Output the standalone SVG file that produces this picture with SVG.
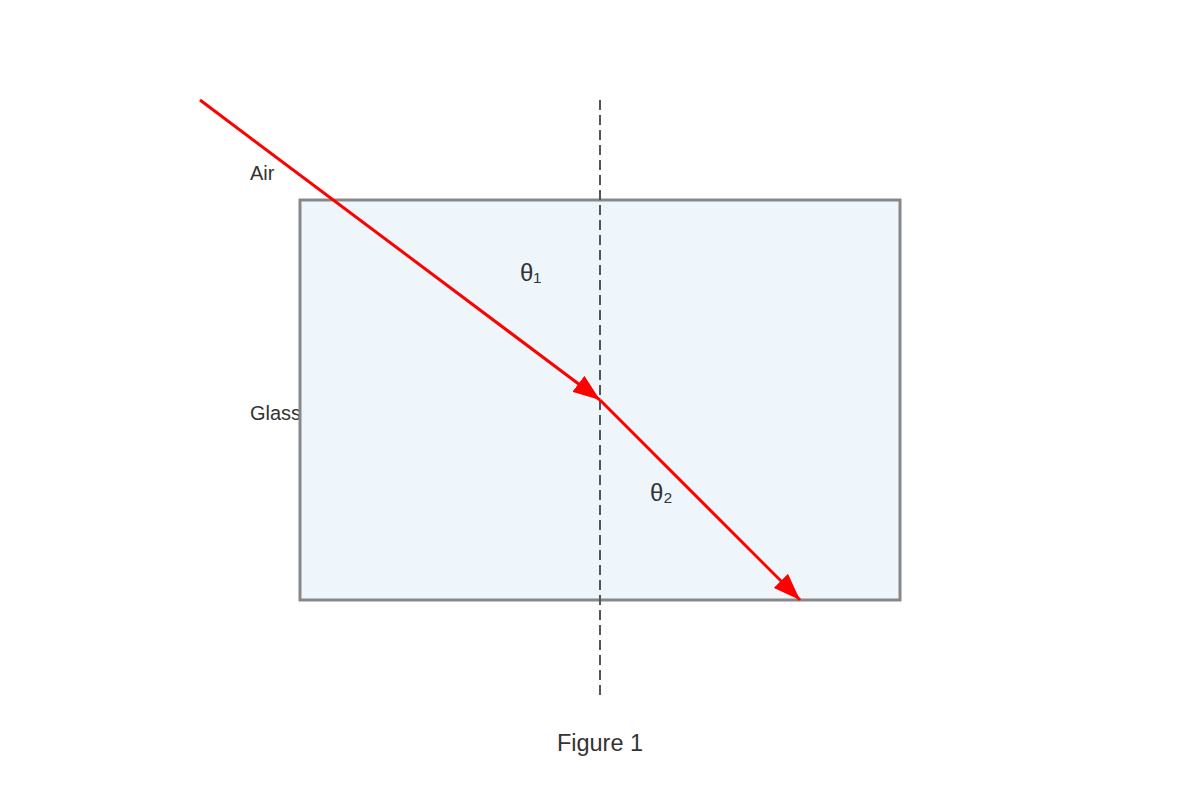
<svg xmlns="http://www.w3.org/2000/svg" width="1200" height="800" viewBox="0 0 1200 800">
  <style>
    .label { font-family: "Liberation Sans", Arial, sans-serif; font-size: 20px; fill: #333333; }
    .angle { font-family: "Liberation Sans", Arial, sans-serif; font-size: 24px; fill: #333333; }
    .caption { font-family: "Liberation Sans", Arial, sans-serif; font-size: 23.5px; fill: #333333; }
    .ray { stroke: #ff0000; stroke-width: 3; fill: none; marker-end: url(#arrow); }
    .normal { stroke: #555555; stroke-width: 2; stroke-dasharray: 10 5; fill: none; }
  </style>
  <defs>
    <marker id="arrow" viewBox="0 0 27 20" markerWidth="27" markerHeight="20" markerUnits="userSpaceOnUse" refX="27" refY="10" orient="auto">
      <path d="M0,0 L27,10 L0,20 Z" fill="#ff0000"/>
    </marker>
  </defs>
  <rect width="1200" height="800" fill="#ffffff"/>
  <g id="label-air"><text class="label" x="250" y="180">Air</text></g>
  <g id="label-glass"><text class="label" x="250" y="420">Glass</text></g>
  <g id="glass-block">
    <rect x="300" y="200" width="600" height="400" fill="#eef6fc" stroke="#888888" stroke-width="3"/>
  </g>
  <g id="connectors">
    <line id="normal" class="normal" x1="600" y1="100" x2="600" y2="700"/>
    <line id="incident-ray" class="ray" x1="200" y1="100" x2="600" y2="400"/>
    <line id="refracted-ray" class="ray" x1="600" y1="400" x2="800" y2="600"/>
  </g>
  <g id="label-theta1"><text class="angle" x="520" y="281">θ₁</text></g>
  <g id="label-theta2"><text class="angle" x="650" y="501">θ₂</text></g>
  <g id="caption"><text class="caption" x="600" y="751" text-anchor="middle">Figure 1</text></g>
</svg>
